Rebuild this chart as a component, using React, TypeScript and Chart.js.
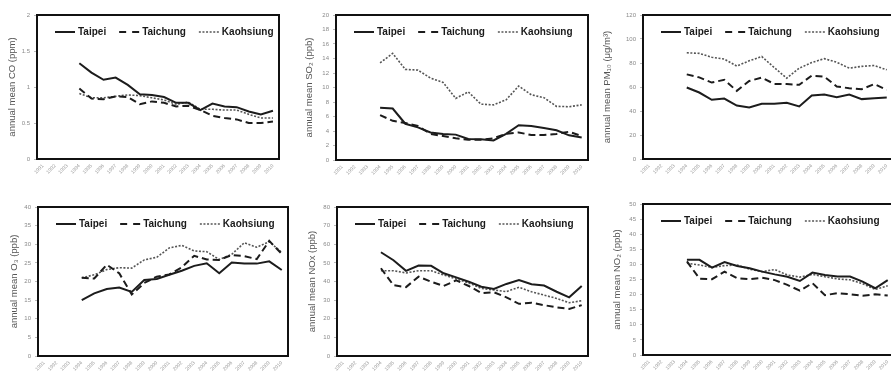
import React, { useEffect, useRef } from "react";
import { Chart, registerables } from "chart.js";

Chart.register(...registerables);

const years = ["1991", "1992", "1993", "1994", "1995", "1996", "1997", "1998", "1999", "2000", "2001", "2002", "2003", "2004", "2005", "2006", "2007", "2008", "2009", "2010"];
const cities = ["Taipei", "Taichung", "Kaohsiung"];
const missingYears = [null, null, null]; // 1991-1993 no data

// values from 1994 to 2010
const coTaipei = [1.33, 1.2, 1.1, 1.13, 1.03, 0.9, 0.89, 0.86, 0.78, 0.78, 0.68, 0.77, 0.73, 0.72, 0.66, 0.62, 0.67];
const coTaichung = [0.98, 0.84, 0.83, 0.87, 0.86, 0.76, 0.8, 0.78, 0.73, 0.74, 0.68, 0.6, 0.57, 0.55, 0.5, 0.5, 0.52];
const coKaohsiung = [0.91, 0.85, 0.85, 0.87, 0.89, 0.88, 0.85, 0.82, 0.76, 0.79, 0.69, 0.69, 0.68, 0.68, 0.62, 0.57, 0.57];

const so2Taipei = [7.2, 7.1, 5.0, 4.5, 3.8, 3.6, 3.5, 2.9, 2.85, 2.7, 3.6, 4.8, 4.7, 4.4, 4.1, 3.4, 3.1];
const so2Taichung = [6.2, 5.4, 5.1, 4.7, 3.6, 3.3, 3.0, 2.8, 2.8, 3.0, 3.6, 3.8, 3.45, 3.45, 3.6, 3.9, 3.3];
const so2Kaohsiung = [13.4, 14.7, 12.5, 12.4, 11.3, 10.7, 8.5, 9.4, 7.7, 7.6, 8.3, 10.2, 9.0, 8.6, 7.4, 7.35, 7.6];

const pmTaipei = [59.6, 55.4, 49.3, 50.4, 44.5, 43, 46, 46, 46.8, 43.8, 53, 53.8, 51.5, 53.8, 49.9, 50.7, 51.3];
const pmTaichung = [70.5, 68, 63.7, 66, 56.8, 65, 67.8, 62.6, 62.4, 61.8, 69.5, 68.7, 60.4, 59, 58.2, 62.4, 57.6];
const pmKaohsiung = [88.5, 88, 84.8, 83.3, 77.5, 81.8, 85.4, 76.2, 67.3, 75.7, 80.4, 83.6, 80.6, 75.7, 77.2, 77.9, 74.3];

const o3Taipei = [15.0, 16.8, 18.0, 18.4, 17.2, 20.4, 20.7, 21.8, 22.9, 24.2, 24.9, 22.2, 25.1, 24.8, 24.8, 25.4, 23.1];
const o3Taichung = [21.0, 20.8, 24.5, 22.2, 16.5, 19.6, 21.3, 21.9, 23.8, 26.9, 25.9, 25.8, 27.1, 26.8, 26.0, 30.9, 27.4];
const o3Kaohsiung = [21.0, 21.8, 23.2, 23.7, 23.6, 25.8, 26.5, 29.0, 29.7, 28.2, 28.0, 25.9, 27.3, 30.4, 29.2, 30.7, 27.8];

const noxTaipei = [55.7, 51.4, 45.7, 48.6, 48.4, 44.4, 42.2, 39.9, 37.2, 36.0, 38.7, 40.8, 38.5, 37.8, 34.5, 31.5, 37.6];
const noxTaichung = [47.1, 38.0, 37.0, 42.6, 39.9, 37.6, 40.6, 37.6, 33.8, 34.2, 31.5, 28.0, 28.6, 27.3, 26.1, 25.3, 27.3];
const noxKaohsiung = [45.8, 45.8, 44.6, 45.8, 45.8, 43.5, 41.4, 39.2, 36.3, 35.4, 34.6, 36.9, 34.5, 32.7, 30.9, 28.6, 29.7];

const no2Taipei = [31.5, 31.5, 28.9, 30.8, 29.5, 28.7, 27.6, 26.7, 25.9, 24.5, 27.3, 26.5, 26.0, 26.0, 24.3, 22.1, 24.8];
const no2Taichung = [31.0, 25.3, 25.1, 27.6, 25.4, 25.1, 25.6, 24.8, 23.2, 21.3, 23.8, 19.8, 20.5, 20.1, 19.6, 20.1, 19.7];
const no2Kaohsiung = [30.4, 29.8, 29.0, 29.6, 29.8, 28.4, 27.6, 28.3, 26.5, 25.8, 26.7, 25.9, 25.2, 24.9, 23.6, 21.7, 22.9];

const FONT = "'Liberation Sans', Arial, Helvetica, sans-serif";

type PanelDef = {
  title: string;
  series: number[][];
  yMax: number;
  yStep: number;
  left: number;
  top: number;
  w: number;
  h: number;
  yWidth: number;
  xHeight: number;
  padTop: number;
  padRight: number;
  titlePad: number;
};

const lineStyles = [
  { color: "#1c1c1c", width: 2, dash: [] as number[], legendDash: [] as number[] },
  { color: "#1c1c1c", width: 2, dash: [7, 4], legendDash: [7, 6] },
  { color: "#555555", width: 1.6, dash: [2, 1.6], legendDash: [2, 1.6] },
];

const decoPlugin = {
  id: "panelDeco",
  afterDatasetsDraw(chart: any) {
    const { ctx, chartArea } = chart;
    ctx.save();
    ctx.strokeStyle = "#111";
    ctx.lineWidth = 2;
    ctx.setLineDash([]);
    ctx.strokeRect(chartArea.left, chartArea.top, chartArea.right - chartArea.left, chartArea.bottom - chartArea.top);
    // legend inside chart area
    let x = chartArea.left + 18;
    const y = chartArea.top + 17;
    ctx.font = `bold 10px ${FONT}`;
    ctx.textBaseline = "middle";
    ctx.textAlign = "left";
    chart.data.datasets.forEach((ds: any, i: number) => {
      const st = lineStyles[i];
      ctx.beginPath();
      ctx.strokeStyle = st.color;
      ctx.lineWidth = st.width;
      ctx.setLineDash(st.legendDash);
      ctx.moveTo(x, y);
      ctx.lineTo(x + 20, y);
      ctx.stroke();
      ctx.setLineDash([]);
      ctx.fillStyle = "#1a1a1a";
      ctx.fillText(ds.label, x + 23, y + 0.5);
      x += 23 + ctx.measureText(ds.label).width + 13;
    });
    ctx.restore();
  },
};

function Panel({ def }: { def: PanelDef }) {
  const ref = useRef<HTMLCanvasElement | null>(null);
  useEffect(() => {
    if (!ref.current) return;
    const chart = new Chart(ref.current, {
      type: "line",
      data: {
        labels: years,
        datasets: def.series.map((s, i) => ({
          label: cities[i],
          data: [...missingYears, ...s],
          borderColor: lineStyles[i].color,
          borderWidth: lineStyles[i].width,
          borderDash: lineStyles[i].dash,
          pointRadius: 0,
          tension: 0,
          fill: false,
          spanGaps: false,
        })),
      },
      options: {
        responsive: false,
        animation: false,
        devicePixelRatio: 1,
        layout: { padding: { top: def.padTop, right: def.padRight, left: 0, bottom: 0 } },
        plugins: { legend: { display: false }, tooltip: { enabled: false }, title: { display: false } },
        scales: {
          x: {
            type: "category",
            offset: true,
            border: { display: false },
            grid: { display: true, drawOnChartArea: false, drawTicks: false, color: "rgba(0,0,0,0)" },
            ticks: {
              autoSkip: false,
              minRotation: 45,
              maxRotation: 45,
              padding: 4,
              color: "#9a9a9a",
              font: { family: FONT, size: 5 },
            },
            afterFit: (scale: any) => {
              scale.height = def.xHeight;
            },
          },
          y: {
            min: 0,
            max: def.yMax,
            border: { display: false },
            grid: { display: true, drawOnChartArea: false, drawTicks: true, tickLength: 3, color: "#bbbbbb" },
            ticks: {
              stepSize: def.yStep,
              padding: 4,
              color: "#8a8a8a",
              font: { family: FONT, size: 6 },
              callback: (v: any) => String(v),
            },
            title: {
              display: true,
              text: def.title,
              color: "#555",
              font: { family: FONT, size: 9.5 },
              padding: { top: def.titlePad, bottom: 0 },
            },
            afterFit: (scale: any) => {
              scale.width = def.yWidth;
            },
          },
        },
      },
      plugins: [decoPlugin],
    } as any);
    return () => chart.destroy();
  }, [def]);
  return (
    <div style={{ position: "absolute", left: def.left, top: def.top, width: def.w, height: def.h }}>
      <canvas ref={ref} width={def.w} height={def.h} style={{ display: "block", width: def.w, height: def.h }} />
    </div>
  );
}

const panels: PanelDef[] = [
  { title: "annual mean CO (ppm)", series: [coTaipei, coTaichung, coKaohsiung], yMax: 2, yStep: 0.5, left: 0, top: 0, w: 290, h: 186, yWidth: 37, xHeight: 27, padTop: 15, padRight: 11, titlePad: 7 },
  { title: "annual mean SO\u2082 (ppb)", series: [so2Taipei, so2Taichung, so2Kaohsiung], yMax: 20, yStep: 2, left: 295, top: 0, w: 300, h: 186, yWidth: 41, xHeight: 26, padTop: 15, padRight: 7, titlePad: 9 },
  { title: "annual mean PM\u2081\u2080 (\u03bcg/m\u00b3)", series: [pmTaipei, pmTaichung, pmKaohsiung], yMax: 120, yStep: 20, left: 595, top: 0, w: 310, h: 186, yWidth: 48, xHeight: 27, padTop: 15, padRight: 12, titlePad: 7 },
  { title: "annual mean O\u2083 (ppb)", series: [o3Taipei, o3Taichung, o3Kaohsiung], yMax: 40, yStep: 5, left: 0, top: 190, w: 295, h: 193, yWidth: 38, xHeight: 27, padTop: 17, padRight: 7, titlePad: 9 },
  { title: "annual mean NOx (ppb)", series: [noxTaipei, noxTaichung, noxKaohsiung], yMax: 80, yStep: 10, left: 295, top: 190, w: 300, h: 193, yWidth: 42, xHeight: 27, padTop: 17, padRight: 7, titlePad: 12 },
  { title: "annual mean NO\u2082 (ppb)", series: [no2Taipei, no2Taichung, no2Kaohsiung], yMax: 50, yStep: 5, left: 595, top: 190, w: 310, h: 193, yWidth: 48, xHeight: 28, padTop: 14, padRight: 11, titlePad: 17 },
];

export default function App() {
  return (
    <div style={{ position: "fixed", left: 0, top: 0, width: 891, height: 372, overflow: "hidden", background: "#fff" }}>
      {panels.map((p, i) => (
        <Panel key={i} def={p} />
      ))}
    </div>
  );
}
